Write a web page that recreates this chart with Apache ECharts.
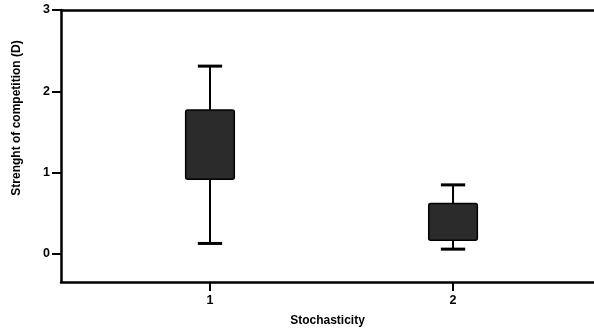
<!DOCTYPE html>
<html>
<head>
<meta charset="utf-8">
<style>html,body{margin:0;padding:0;background:#fff}#chart{width:594px;height:335px}</style>
<script src="https://cdn.jsdelivr.net/npm/echarts@6/dist/echarts.min.js"></script>
</head>
<body>
<div id="chart"></div>
<script>
// Stochasticity levels and the box summaries of competition strength
const categories = [1, 2];
const whiskerLow = [0.13, 0.06];
const boxLow = [0.92, 0.17];
const boxHigh = [1.77, 0.62];
const whiskerHigh = [2.31, 0.85];
const yTicks = [0, 1, 2, 3];

const data = categories.map((c, i) => [c, whiskerLow[i], boxLow[i], boxHigh[i], whiskerHigh[i]]);

const chart = echarts.init(document.getElementById('chart'));
const FONT = 'Liberation Sans, Arial, sans-serif';
const tickFont = { fontFamily: FONT, fontWeight: 'bold', fontSize: 12.5, color: '#000' };

function renderBox(params, api) {
  const x = api.value(0);
  const pLow = api.coord([x, api.value(1)]);
  const pQ1 = api.coord([x, api.value(2)]);
  const pQ3 = api.coord([x, api.value(3)]);
  const pHigh = api.coord([x, api.value(4)]);
  const boxW = api.size([0.2, 0])[0];
  const capW = api.size([0.1, 0])[0];
  const cx = pLow[0];
  return {
    type: 'group',
    children: [
      { type: 'line', shape: { x1: cx, y1: pHigh[1], x2: cx, y2: pLow[1] }, style: { stroke: '#000', lineWidth: 2 } },
      { type: 'line', shape: { x1: cx - capW / 2, y1: pHigh[1], x2: cx + capW / 2, y2: pHigh[1] }, style: { stroke: '#000', lineWidth: 3 } },
      { type: 'line', shape: { x1: cx - capW / 2, y1: pLow[1], x2: cx + capW / 2, y2: pLow[1] }, style: { stroke: '#000', lineWidth: 3 } },
      { type: 'rect', shape: { x: cx - boxW / 2, y: pQ3[1], width: boxW, height: pQ1[1] - pQ3[1], r: 2 },
        style: { fill: '#2b2b2b', stroke: '#000', lineWidth: 1.5 } }
    ]
  };
}

chart.setOption({
  animation: false,
  grid: { left: 61, right: 0, top: 10, bottom: 53 },
  xAxis: [{
    type: 'value', min: 0.387, max: 2.58,
    axisLine: { show: true, onZero: false, lineStyle: { color: '#000', width: 2.5 } },
    axisTick: { show: true, customValues: categories, length: 9, lineStyle: { color: '#000', width: 2 } },
    axisLabel: Object.assign({ customValues: categories, margin: 12 }, tickFont),
    splitLine: { show: false },
    name: 'Stochasticity', nameLocation: 'middle', nameGap: 33,
    nameTextStyle: { fontFamily: FONT, fontWeight: 'bold', fontSize: 12, color: '#000' }
  }, {
    type: 'value', position: 'top', min: 0.387, max: 2.58,
    axisLine: { show: true, onZero: false, lineStyle: { color: '#000', width: 2.5 } },
    axisTick: { show: false }, axisLabel: { show: false }, splitLine: { show: false }
  }],
  yAxis: {
    type: 'value', min: -0.344, max: 3,
    axisLine: { show: true, onZero: false, lineStyle: { color: '#000', width: 2.5 } },
    axisTick: { show: true, customValues: yTicks, length: 9, lineStyle: { color: '#000', width: 2 } },
    axisLabel: Object.assign({ customValues: yTicks, margin: 11 }, tickFont),
    splitLine: { show: false }
  },
  graphic: [{
    type: 'text', x: 17, y: 118, rotation: Math.PI / 2,
    style: { text: 'Strenght of competition (D)', fill: '#000', font: 'bold 12px "Liberation Sans", Arial, sans-serif',
      textAlign: 'center', textVerticalAlign: 'middle' }
  }],
  series: [{
    type: 'custom', renderItem: renderBox, data: data,
    encode: { x: 0, y: [1, 2, 3, 4] }
  }]
});
</script>
</body>
</html>
